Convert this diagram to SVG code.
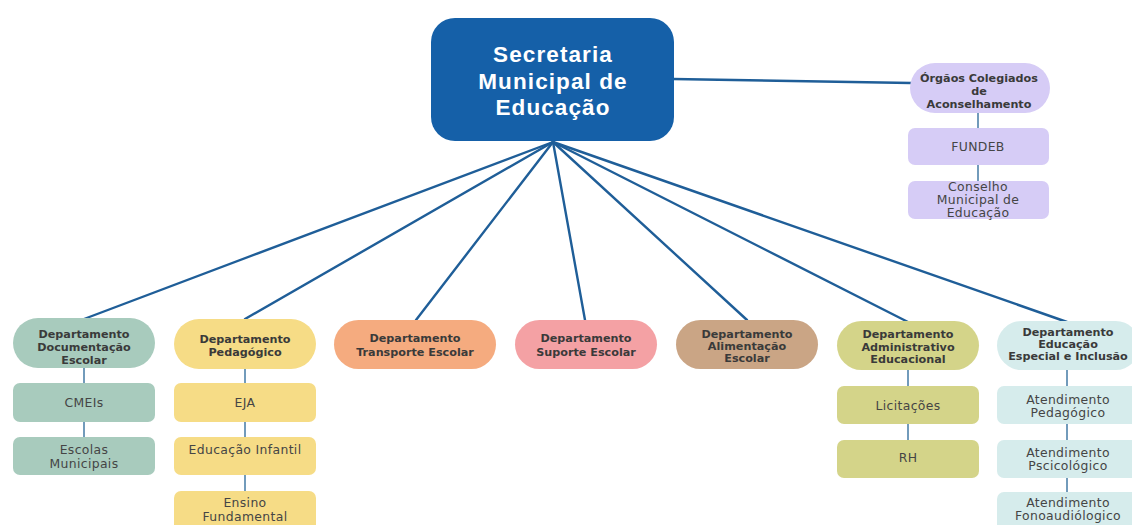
<svg xmlns="http://www.w3.org/2000/svg" width="1132" height="525" viewBox="0 0 1132 525">
<style>
.title{font-family:"Liberation Sans",Arial,sans-serif;font-weight:bold;font-size:22.5px;fill:#ffffff;text-anchor:middle;letter-spacing:1.1px}
.dept{font-family:"DejaVu Sans",sans-serif;font-weight:bold;font-size:11.2px;fill:#3a3a3a;text-anchor:middle}
.sub{font-family:"DejaVu Sans",sans-serif;font-size:12.4px;fill:#454545;text-anchor:middle;letter-spacing:0.35px}
.main-link{stroke:#1f5e98;stroke-width:2.4;fill:none;stroke-linecap:round}
.sub-link{stroke:#4f82aa;stroke-width:1.6;fill:none}
</style>
<rect width="1132" height="525" fill="#ffffff"/>
<g id="connectors">
<line class="main-link" x1="673" y1="79" x2="911" y2="83"/>
<line class="main-link" x1="553" y1="142" x2="84" y2="319"/>
<line class="main-link" x1="553" y1="142" x2="245" y2="319"/>
<line class="main-link" x1="553" y1="142" x2="416" y2="320"/>
<line class="main-link" x1="553" y1="142" x2="585" y2="320"/>
<line class="main-link" x1="553" y1="142" x2="747" y2="320"/>
<line class="main-link" x1="553" y1="142" x2="908" y2="322"/>
<line class="main-link" x1="553" y1="142" x2="1067" y2="322"/>
<line class="sub-link" x1="978" y1="112" x2="978" y2="128"/>
<line class="sub-link" x1="978" y1="165" x2="978" y2="181"/>
<line class="sub-link" x1="84" y1="368" x2="84" y2="383"/>
<line class="sub-link" x1="84" y1="422" x2="84" y2="437"/>
<line class="sub-link" x1="245" y1="369" x2="245" y2="383"/>
<line class="sub-link" x1="245" y1="422" x2="245" y2="437"/>
<line class="sub-link" x1="245" y1="475" x2="245" y2="491"/>
<line class="sub-link" x1="908" y1="370" x2="908" y2="386"/>
<line class="sub-link" x1="908" y1="424" x2="908" y2="440"/>
<line class="sub-link" x1="1067" y1="370" x2="1067" y2="386"/>
<line class="sub-link" x1="1067" y1="424" x2="1067" y2="440"/>
<line class="sub-link" x1="1067" y1="478" x2="1067" y2="492"/>
</g>
<g id="secretaria">
<rect x="431" y="18" width="243" height="123" rx="24" fill="#1560a8"/>
<text class="title" x="553" y="62">Secretaria</text>
<text class="title" x="553" y="88.5">Municipal de</text>
<text class="title" x="553" y="115">Educação</text>
</g>
<g id="orgaos">
<rect x="910" y="63" width="140" height="50" rx="25" fill="#d6ccf6"/>
<text class="dept" x="979" y="82">Órgãos Colegiados</text>
<text class="dept" x="979" y="95">de</text>
<text class="dept" x="979" y="108">Aconselhamento</text>
</g>
<g id="fundeb">
<rect x="908" y="128" width="141" height="37" rx="7" fill="#d6ccf6"/>
<text class="sub" x="978" y="151">FUNDEB</text>
</g>
<g id="conselho">
<rect x="908" y="181" width="141" height="38" rx="7" fill="#d6ccf6"/>
<text class="sub" x="978" y="191">Conselho</text>
<text class="sub" x="978" y="204">Municipal de</text>
<text class="sub" x="978" y="217">Educação</text>
</g>
<g id="dept-documentacao">
<rect x="13" y="318" width="142" height="50" rx="25" fill="#a8cbbd"/>
<text class="dept" x="84" y="338">Departamento</text>
<text class="dept" x="84" y="351">Documentação</text>
<text class="dept" x="84" y="364">Escolar</text>
</g>
<g id="cmeis">
<rect x="13" y="383" width="142" height="39" rx="7" fill="#a8cbbd"/>
<text class="sub" x="84" y="407">CMEIs</text>
</g>
<g id="escolas">
<rect x="13" y="437" width="142" height="38" rx="7" fill="#a8cbbd"/>
<text class="sub" x="84" y="454">Escolas</text>
<text class="sub" x="84" y="468">Municipais</text>
</g>
<g id="dept-pedagogico">
<rect x="174" y="319" width="142" height="50" rx="25" fill="#f6dc86"/>
<text class="dept" x="245" y="343">Departamento</text>
<text class="dept" x="245" y="356">Pedagógico</text>
</g>
<g id="eja">
<rect x="174" y="383" width="142" height="39" rx="7" fill="#f6dc86"/>
<text class="sub" x="245" y="407">EJA</text>
</g>
<g id="infantil">
<rect x="174" y="437" width="142" height="38" rx="7" fill="#f6dc86"/>
<text class="sub" x="245" y="454">Educação Infantil</text>
</g>
<g id="fundamental">
<rect x="174" y="491" width="142" height="44" rx="7" fill="#f6dc86"/>
<text class="sub" x="245" y="507">Ensino</text>
<text class="sub" x="245" y="521">Fundamental</text>
</g>
<g id="dept-transporte">
<rect x="334" y="320" width="162" height="49" rx="24.5" fill="#f5ab7f"/>
<text class="dept" x="415" y="342">Departamento</text>
<text class="dept" x="415" y="356">Transporte Escolar</text>
</g>
<g id="dept-suporte">
<rect x="515" y="320" width="142" height="49" rx="24.5" fill="#f4a1a4"/>
<text class="dept" x="586" y="342">Departamento</text>
<text class="dept" x="586" y="356">Suporte Escolar</text>
</g>
<g id="dept-alimentacao">
<rect x="676" y="320" width="142" height="49" rx="24.5" fill="#caa585"/>
<text class="dept" x="747" y="338">Departamento</text>
<text class="dept" x="747" y="350">Alimentação</text>
<text class="dept" x="747" y="362">Escolar</text>
</g>
<g id="dept-administrativo">
<rect x="837" y="321" width="142" height="49" rx="24.5" fill="#d4d489"/>
<text class="dept" x="908" y="338">Departamento</text>
<text class="dept" x="908" y="351">Administrativo</text>
<text class="dept" x="908" y="363">Educacional</text>
</g>
<g id="licitacoes">
<rect x="837" y="386" width="142" height="38" rx="7" fill="#d4d489"/>
<text class="sub" x="908" y="410">Licitações</text>
</g>
<g id="rh">
<rect x="837" y="440" width="142" height="38" rx="7" fill="#d4d489"/>
<text class="sub" x="908" y="462">RH</text>
</g>
<g id="dept-especial">
<rect x="997" y="321" width="143" height="49" rx="24.5" fill="#d6ecec"/>
<text class="dept" x="1068" y="336">Departamento</text>
<text class="dept" x="1068" y="348">Educação</text>
<text class="dept" x="1068" y="360">Especial e Inclusão</text>
</g>
<g id="atend-pedagogico">
<rect x="997" y="386" width="143" height="38" rx="7" fill="#d6ecec"/>
<text class="sub" x="1068" y="404">Atendimento</text>
<text class="sub" x="1068" y="417">Pedagógico</text>
</g>
<g id="atend-psicologico">
<rect x="997" y="440" width="143" height="38" rx="7" fill="#d6ecec"/>
<text class="sub" x="1068" y="457">Atendimento</text>
<text class="sub" x="1068" y="470">Pscicológico</text>
</g>
<g id="atend-fono">
<rect x="997" y="492" width="143" height="44" rx="7" fill="#d6ecec"/>
<text class="sub" x="1068" y="507">Atendimento</text>
<text class="sub" x="1068" y="520">Fonoaudiólogico</text>
</g>
</svg>
